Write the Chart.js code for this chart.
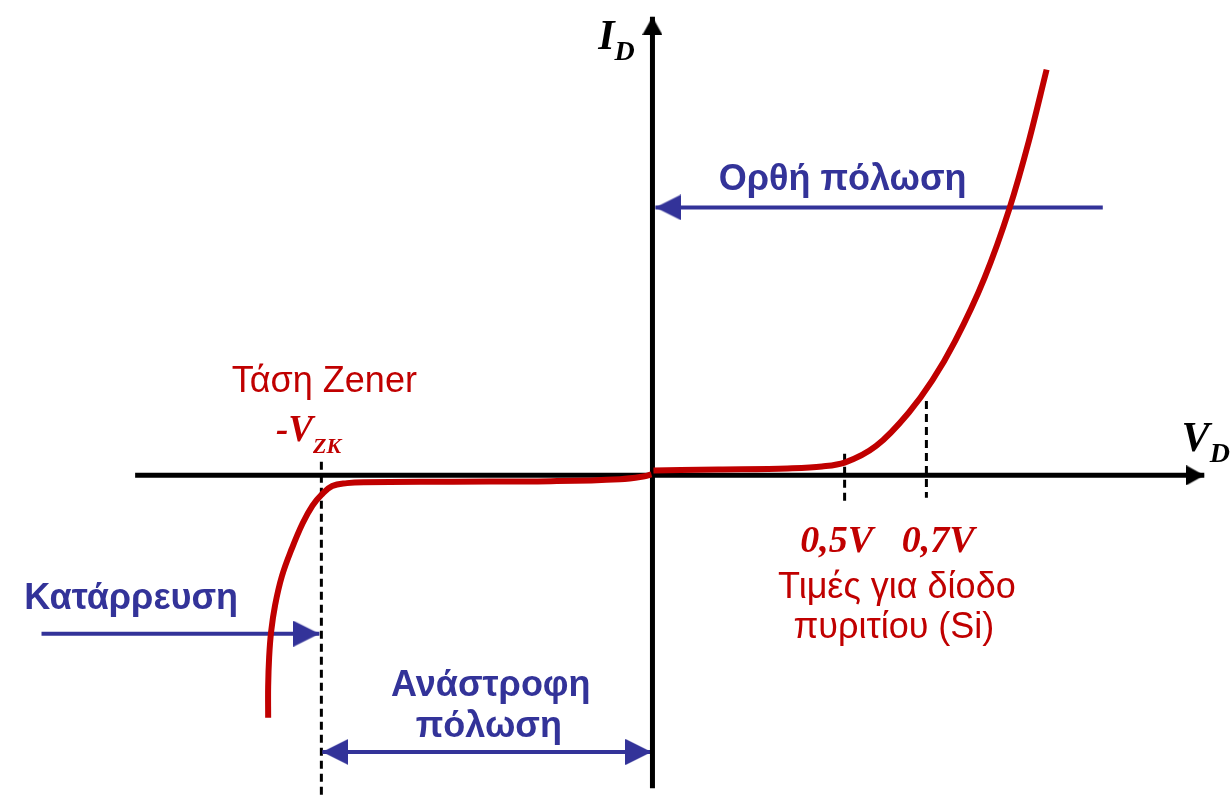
<!DOCTYPE html>
<html lang="el">

<head>
  <meta charset="UTF-8" />
  <title>Χαρακτηριστική διόδου</title>
  <script src="https://cdn.jsdelivr.net/npm/chart.js"></script>
  <style>
    * {
      margin: 0;
      padding: 0;
      box-sizing: border-box;
    }

    body {
      background: #ffffff;
      overflow: hidden;
    }

    canvas {
      display: block;
    }
  </style>
</head>

<body>
  <canvas id="diodeChart" width="1232" height="804"></canvas>

  <script>
    // characteristic curve (schematic units, origin = axes crossing)
    const reverseV = [-3.91, -3.91, -3.90, -3.88, -3.84, -3.77, -3.67, -3.56, -3.46, -3.37, -3.26, -3.11, -2.94, -2.04, -1.04, -0.34, -0.09, -0.02];
    const reverseI = [-2.48, -2.16, -1.86, -1.60, -1.33, -1.03, -0.75, -0.49, -0.31, -0.20, -0.11, -0.08, -0.07, -0.065, -0.06, -0.04, -0.01, 0.01];
    const forwardV = [0, 0.66, 1.36, 1.71, 1.94, 2.26, 2.59, 2.83, 3.06, 3.36, 3.61, 3.81, 3.99];
    const forwardI = [0.05, 0.06, 0.07, 0.09, 0.13, 0.30, 0.64, 0.97, 1.37, 2.02, 2.72, 3.42, 4.15];

    // marked voltages on the axis
    const zenerV = -3.37;
    const kneeLabels = ['0,5V', '0,7V'];
    const kneeV = [1.94, 2.77];
    const kneeLabelX = [1.86, 2.89];

    const RED = '#c00000';
    const BLUE = '#333399';
    const SANS = '"Liberation Sans", Arial, sans-serif';
    const SERIF = '"Liberation Serif", "Times New Roman", serif';

    const pts = (xs, ys) => xs.map((x, i) => ({ x: x, y: ys[i] }));

    // arrow head image, tip sits at the centre so the point marks the tip
    function head(len, wid, color) {
      const c = document.createElement('canvas');
      c.width = len * 2;
      c.height = wid;
      const g = c.getContext('2d');
      g.fillStyle = color;
      g.beginPath();
      g.moveTo(0, 0);
      g.lineTo(len, wid / 2);
      g.lineTo(0, wid);
      g.closePath();
      g.fill();
      return c;
    }

    const blackHead = head(18, 20, '#000');
    const blueHead = head(26, 26, BLUE);

    function arrow(data, color, width, img, rot, radius) {
      return {
        data: data,
        showLine: true,
        borderColor: color,
        borderWidth: width,
        pointRadius: radius,
        pointStyle: img,
        pointRotation: rot,
        order: 2
      };
    }

    function dashed(x, y1, y2) {
      return {
        data: [{ x: x, y: y1 }, { x: x, y: y2 }],
        showLine: true,
        borderColor: '#000',
        borderWidth: 3,
        borderDash: [8, 5],
        pointRadius: 0,
        order: 3
      };
    }

    const labels = [
      { x: 1.92, y: 2.92, align: 'center', runs: [{ t: 'Ορθή πόλωση', f: 'bold 36px ' + SANS, c: BLUE }] },
      { x: -5.30, y: -1.37, align: 'center', runs: [{ t: 'Κατάρρευση', f: 'bold 36px ' + SANS, c: BLUE }] },
      { x: -1.65, y: -2.26, align: 'center', runs: [{ t: 'Ανάστροφη', f: 'bold 36px ' + SANS, c: BLUE }] },
      { x: -1.67, y: -2.68, align: 'center', runs: [{ t: 'πόλωση', f: 'bold 36px ' + SANS, c: BLUE }] },
      { x: -3.34, y: 0.85, align: 'center', runs: [{ t: 'Τάση Zener', f: '36px ' + SANS, c: RED }] },
      { x: -3.83, y: 0.35, align: 'left', runs: [{ t: '-V', f: 'italic bold 37px ' + SERIF, c: RED }, { t: 'ZK', f: 'italic bold 22px ' + SERIF, c: RED, dy: 12 }] },
      { x: 2.47, y: -1.25, align: 'center', runs: [{ t: 'Τιμές για δίοδο', f: '36px ' + SANS, c: RED }] },
      { x: 2.44, y: -1.66, align: 'center', runs: [{ t: 'πυριτίου (Si)', f: '36px ' + SANS, c: RED }] },
      { x: -0.56, y: 4.36, align: 'left', runs: [{ t: 'I', f: 'italic bold 42px ' + SERIF, c: '#000' }, { t: 'D', f: 'italic bold 28px ' + SERIF, c: '#000', dy: 11 }] },
      { x: 5.36, y: 0.25, align: 'left', runs: [{ t: 'V', f: 'italic bold 42px ' + SERIF, c: '#000' }, { t: 'D', f: 'italic bold 28px ' + SERIF, c: '#000', dy: 11 }] }
    ];
    kneeLabels.forEach((t, i) => {
      labels.push({ x: kneeLabelX[i], y: -0.78, align: 'center', runs: [{ t: t, f: 'italic bold 38px ' + SERIF, c: RED }] });
    });

    const textPlugin = {
      id: 'texts',
      afterDatasetsDraw(chart) {
        const ctx = chart.ctx;
        const sx = chart.scales.x;
        const sy = chart.scales.y;
        ctx.save();
        ctx.textBaseline = 'alphabetic';
        ctx.textAlign = 'left';
        labels.forEach(l => {
          let total = 0;
          l.runs.forEach(r => {
            ctx.font = r.f;
            r.w = ctx.measureText(r.t).width;
            total += r.w;
          });
          let px = sx.getPixelForValue(l.x);
          const py = sy.getPixelForValue(l.y);
          if (l.align === 'center') px -= total / 2;
          l.runs.forEach(r => {
            ctx.font = r.f;
            ctx.fillStyle = r.c;
            ctx.fillText(r.t, px, py + (r.dy || 0));
            px += r.w;
          });
        });
        ctx.restore();
      }
    };

    const ctx = document.getElementById('diodeChart').getContext('2d');

    new Chart(ctx, {
      type: 'scatter',
      data: {
        datasets: [
          {
            data: pts(reverseV, reverseI),
            showLine: true,
            borderColor: RED,
            borderWidth: 6,
            tension: 0.4,
            pointRadius: 0,
            order: 0
          },
          {
            data: pts(forwardV, forwardI),
            showLine: true,
            borderColor: RED,
            borderWidth: 6,
            cubicInterpolationMode: 'monotone',
            pointRadius: 0,
            order: 0
          },
          // axes
          arrow([{ x: -5.26, y: 0 }, { x: 5.59, y: 0 }], '#000', 5, [false, blackHead], [0, 0], [0, 1]),
          arrow([{ x: -0.01, y: -3.20 }, { x: -0.01, y: 4.69 }], '#000', 5, [false, blackHead], [0, -90], [0, 1]),
          // dashed markers
          dashed(zenerV, 0.14, -3.30),
          dashed(kneeV[0], 0.22, -0.26),
          dashed(kneeV[1], 0.76, -0.23),
          // annotation arrows
          arrow([{ x: 4.56, y: 2.74 }, { x: 0.02, y: 2.74 }], BLUE, 4, [false, blueHead], [0, 180], [0, 1]),
          arrow([{ x: -6.21, y: -1.62 }, { x: -3.39, y: -1.62 }], BLUE, 4, [false, blueHead], [0, 0], [0, 1]),
          arrow([{ x: -3.36, y: -2.83 }, { x: -0.02, y: -2.83 }], BLUE, 4, [blueHead, blueHead], [180, 0], [1, 1])
        ]
      },
      options: {
        responsive: false,
        animation: false,
        events: [],
        layout: { padding: 0 },
        plugins: {
          legend: { display: false },
          tooltip: { enabled: false }
        },
        scales: {
          x: { type: 'linear', min: -6.54, max: 5.78, display: false },
          y: { type: 'linear', min: -3.27, max: 4.77, display: false }
        }
      },
      plugins: [textPlugin]
    });
  </script>

</body>

</html>
